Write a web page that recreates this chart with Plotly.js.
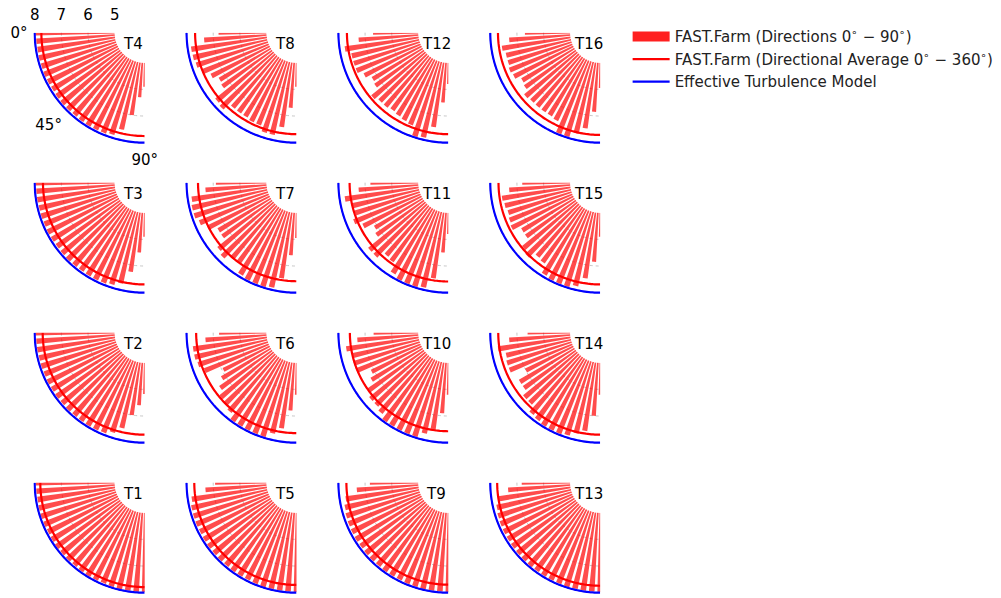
<!DOCTYPE html>
<html><head><meta charset="utf-8">
<script src="https://cdn.plot.ly/plotly-3.0.1.min.js"></script>
<style>html,body{margin:0;padding:0;background:#fff;} #chart{width:1001px;height:598px;}</style>
</head><body><div id="chart"></div>
<script>
// wind directions of the bars (degrees)
const directions = [0,4.5,9,13.5,18,22.5,27,31.5,36,40.5,45,49.5,54,58.5,63,67.5,72,76.5,81,85.5,90];

// FAST.Farm per-direction values, one list per turbine
const T1  = [7.96,7.95,7.94,7.95,7.96,7.95,7.94,7.95,7.96,7.95,7.95,7.94,7.95,7.96,7.95,7.94,7.95,7.96,7.96,7.97,7.97];
const T2  = [7.97,7.95,7.95,7.94,7.95,7.94,7.95,7.94,7.95,7.94,7.95,7.94,7.94,7.95,7.94,7.92,7.80,7.55,7.00,6.60,6.17];
const T3  = [7.97,7.95,7.95,7.94,7.95,7.94,7.95,7.94,7.93,7.94,7.95,7.94,7.93,7.94,7.94,7.93,7.88,7.75,7.25,6.50,5.90];
const T4  = [7.97,7.95,7.94,7.95,7.94,7.95,7.94,7.93,7.94,7.95,7.94,7.93,7.94,7.95,7.94,7.93,7.88,7.60,7.00,6.30,5.90];
const T5  = [6.93,7.30,7.85,7.92,7.93,7.94,7.93,7.94,7.95,7.94,7.95,7.94,7.95,7.95,7.94,7.95,7.96,7.95,7.96,7.96,7.97];
const T6  = [6.78,7.30,7.80,7.80,7.75,7.60,6.95,7.15,7.40,7.60,7.65,7.75,7.95,7.95,7.95,7.95,7.95,7.75,7.50,6.80,6.20];
const T7  = [6.90,7.30,7.85,7.90,7.90,7.80,7.60,7.30,7.30,7.70,7.80,7.60,7.55,7.90,7.95,7.95,7.95,7.90,7.50,6.60,5.95];
const T8  = [6.80,7.35,7.87,7.86,7.82,7.70,7.45,7.25,7.30,7.80,7.85,7.55,7.55,7.55,7.60,7.60,7.80,7.80,7.45,6.70,5.90];
const T9  = [6.82,7.32,7.77,7.86,7.90,7.92,7.93,7.94,7.93,7.94,7.95,7.94,7.95,7.95,7.94,7.95,7.95,7.96,7.96,7.96,7.97];
const T10 = [6.68,7.30,7.75,7.55,7.60,7.60,7.10,7.25,7.55,7.70,7.70,7.80,7.95,7.95,7.95,7.95,7.95,7.75,7.60,6.90,6.20];
const T11 = [6.80,7.25,7.80,7.60,7.55,7.70,7.45,7.10,7.20,7.75,7.75,7.45,7.50,7.85,7.95,7.95,7.95,7.90,7.50,6.50,5.80];
const T12 = [6.70,7.25,7.80,7.60,7.60,7.60,7.40,7.20,7.25,7.60,7.50,7.50,7.45,7.50,7.55,7.60,7.95,7.90,7.45,6.50,5.80];
const T13 = [6.82,7.34,7.74,7.86,7.90,7.92,7.93,7.93,7.94,7.94,7.95,7.95,7.94,7.95,7.95,7.95,7.96,7.95,7.96,7.96,7.97];
const T14 = [6.60,7.30,7.75,7.50,7.55,7.55,7.00,7.40,7.40,7.60,7.60,7.85,7.90,7.95,7.95,7.95,7.90,7.75,7.60,7.00,6.20];
const T15 = [6.80,7.30,7.60,7.55,7.50,7.55,7.60,7.30,7.30,7.65,7.75,7.50,7.55,7.90,7.95,7.95,7.95,7.85,7.50,6.85,5.90];
const T16 = [6.70,7.30,7.60,7.50,7.50,7.55,7.50,7.30,7.35,7.55,7.50,7.50,7.50,7.50,7.55,7.95,7.95,7.75,7.50,6.85,5.95];

const turbineNames = ['T1','T2','T3','T4','T5','T6','T7','T8','T9','T10','T11','T12','T13','T14','T15','T16'];
// FAST.Farm directional average 0-360 deg, per turbine (T1..T16)
const dirAverage = [7.79,7.70,7.69,7.75,7.71,7.64,7.57,7.68,7.70,7.57,7.58,7.68,7.74,7.70,7.69,7.71];
// Effective turbulence model value, per turbine (T1..T16)
const etmValue   = [8.00,8.00,8.00,8.00,8.00,8.00,8.00,8.00,8.00,8.00,8.00,8.00,8.00,8.00,8.00,8.00];

// panel arrangement (rows top to bottom)
const panelGrid = [['T4','T8','T12','T16'],['T3','T7','T11','T15'],['T2','T6','T10','T14'],['T1','T5','T9','T13']];
const radialTickVals = [5,6,7,8];
const angularTickVals = [0,45,90];
const angularTickText = ['0°','45°','90°'];
const legendNames = ['FAST.Farm (Directions 0<sup>∘</sup> − 90<sup>∘</sup>)',
                     'FAST.Farm (Directional Average 0<sup>∘</sup> − 360<sup>∘</sup>)',
                     'Effective Turbulence Model'];

const series = {T1,T2,T3,T4,T5,T6,T7,T8,T9,T10,T11,T12,T13,T14,T15,T16};
const W = 1001, H = 598;
const rMin = 5, rMax = 8.06;
const R = 111.6, holeFrac = 30 / R;
const cx0 = 144.7, dcx = 151.85, cy0 = 32.7, dcy = 150;
const FONT = 'DejaVu Sans, Arial, sans-serif';

// angular sampling for the constant-radius arcs
const arcTheta = [];
for (let a = 0; a <= 90; a += 1) arcTheta.push(a);

const data = [];
// legend entry for the bars (wide patch like the reference)
data.push({
  type: 'scatterpolar', mode: 'lines', subplot: 'polar', name: legendNames[0],
  theta: [null], r: [null], showlegend: true, hoverinfo: 'skip',
  line: {color: '#ff2020', width: 10}
});

const layout = {
  width: W, height: H,
  margin: {l:0, r:0, t:0, b:0},
  paper_bgcolor: '#fff',
  font: {family: FONT, size: 15, color: '#000'},
  showlegend: true,
  legend: {x: 0.627, y: 0.966, xanchor: 'left', yanchor: 'top',
           font: {family: FONT, size: 15, color: '#222'},
           bgcolor: 'rgba(0,0,0,0)', itemwidth: 37, tracegroupgap: 0},
  annotations: []
};

let k = 0;
panelGrid.forEach((row, ri) => {
  row.forEach((name, ci) => {
    k += 1;
    const pid = k === 1 ? 'polar' : 'polar' + k;
    const idx = turbineNames.indexOf(name);
    const vals = series[name];
    const cx = cx0 + ci * dcx, cy = cy0 + ri * dcy;
    const first = (k === 1);
    layout[pid] = {
      domain: {x: [(cx - R) / W, cx / W], y: [1 - (cy + R) / H, 1 - cy / H]},
      sector: [180, 270],
      hole: holeFrac,
      bgcolor: 'rgba(0,0,0,0)',
      radialaxis: {
        range: [rMin, rMax], tickvals: radialTickVals, showticklabels: first,
        ticks: 'outside', ticklen: 9, tickcolor: 'rgba(0,0,0,0)',
        showline: false, showgrid: true, gridcolor: '#b8b8b8',
        griddash: 'dot', gridwidth: 0.8, side: 'clockwise', angle: 180,
        tickfont: {family: FONT, size: 15, color: '#000'}
      },
      angularaxis: {
        rotation: 180, direction: 'counterclockwise', thetaunit: 'degrees',
        tickvals: angularTickVals, ticktext: angularTickText, showticklabels: first,
        ticks: 'outside', ticklen: 2, tickcolor: 'rgba(0,0,0,0)',
        showline: false, showgrid: false,
        tickfont: {family: FONT, size: 15, color: '#000'}
      }
    };
    data.push({
      type: 'barpolar', subplot: pid, name: legendNames[0], showlegend: false,
      theta: directions, base: rMin, r: vals.map(v => v - rMin), width: 3.0,
      marker: {color: 'rgba(255,0,0,0.7)', line: {width: 0}}
    });
    data.push({
      type: 'scatterpolar', mode: 'lines', subplot: pid, name: legendNames[1], showlegend: first,
      theta: arcTheta, r: arcTheta.map(() => dirAverage[idx]),
      line: {color: '#ff0000', width: 2.2}
    });
    data.push({
      type: 'scatterpolar', mode: 'lines', subplot: pid, name: legendNames[2], showlegend: first,
      theta: arcTheta, r: arcTheta.map(() => etmValue[idx]),
      line: {color: '#0000ff', width: 2.2}
    });
    layout.annotations.push({
      xref: 'paper', yref: 'paper', x: (cx - 12) / W, y: 1 - (cy + 11) / H,
      xanchor: 'center', yanchor: 'middle', showarrow: false, text: name,
      font: {family: FONT, size: 15, color: '#000'}
    });
  });
});

Plotly.newPlot('chart', data, layout, {staticPlot: true, displayModeBar: false});
</script></body></html>
